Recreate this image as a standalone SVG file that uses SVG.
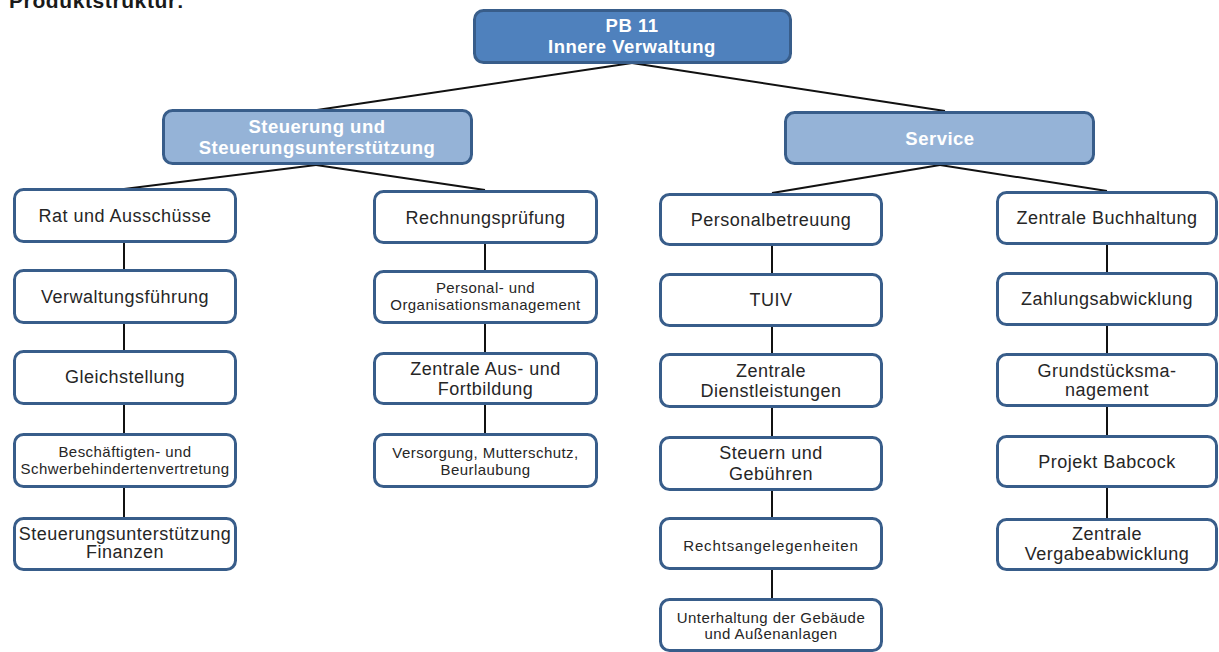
<svg xmlns="http://www.w3.org/2000/svg" width="1219" height="652" viewBox="0 0 1219 652">
<style>
.top{fill:#4f81bd;stroke:#385d8a;stroke-width:3}
.mid{fill:#95b3d7;stroke:#385d8a;stroke-width:3}
.box{fill:#ffffff;stroke:#385d8a;stroke-width:3}
.hb{font-family:"Liberation Sans",Arial,sans-serif;font-weight:bold;font-size:18.5px;letter-spacing:0.5px;fill:#ffffff;text-anchor:middle}
.t{font-family:"Liberation Sans",Arial,sans-serif;font-size:18px;letter-spacing:0.5px;fill:#262626;text-anchor:middle}
.s{font-family:"Liberation Sans",Arial,sans-serif;font-size:15px;letter-spacing:0.45px;fill:#262626;text-anchor:middle}
.s2{font-family:"Liberation Sans",Arial,sans-serif;font-size:15px;letter-spacing:0.85px;fill:#262626;text-anchor:middle}
.title{font-family:"Liberation Sans",Arial,sans-serif;font-weight:bold;font-size:21px;letter-spacing:0.6px;fill:#1a1a1a}
.c{stroke:#111111;stroke-width:2;fill:none}
</style>
<text class="title" x="9" y="8">Produktstruktur:</text>
<g id="connectors">
<line class="c" x1="632" y1="63" x2="317" y2="110"/>
<line class="c" x1="632" y1="63" x2="945" y2="111"/>
<line class="c" x1="316" y1="165" x2="124" y2="189"/>
<line class="c" x1="316" y1="165" x2="485" y2="190"/>
<line class="c" x1="940" y1="165" x2="772" y2="193"/>
<line class="c" x1="940" y1="165" x2="1107" y2="191"/>
<line class="c" x1="124" y1="242" x2="124" y2="270"/>
<line class="c" x1="124" y1="323" x2="124" y2="351"/>
<line class="c" x1="124" y1="404" x2="124" y2="434"/>
<line class="c" x1="124" y1="487" x2="124" y2="518"/>
<line class="c" x1="485" y1="244" x2="485" y2="271"/>
<line class="c" x1="485" y1="324" x2="485" y2="353"/>
<line class="c" x1="485" y1="405" x2="485" y2="434"/>
<line class="c" x1="772" y1="246" x2="772" y2="274"/>
<line class="c" x1="772" y1="327" x2="772" y2="354"/>
<line class="c" x1="772" y1="408" x2="772" y2="437"/>
<line class="c" x1="772" y1="491" x2="772" y2="518"/>
<line class="c" x1="772" y1="570" x2="772" y2="599"/>
<line class="c" x1="1107" y1="245" x2="1107" y2="273"/>
<line class="c" x1="1107" y1="326" x2="1107" y2="354"/>
<line class="c" x1="1107" y1="407" x2="1107" y2="436"/>
<line class="c" x1="1107" y1="488" x2="1107" y2="519"/>
</g>
<g id="pb11"><rect class="top" x="474.5" y="10.5" width="316" height="52" rx="9"/><text class="hb" x="632" y="32">PB 11</text><text class="hb" x="632" y="53">Innere Verwaltung</text></g>
<g id="steuerung"><rect class="mid" x="163.5" y="110.5" width="308" height="53" rx="9"/><text class="hb" x="317" y="133">Steuerung und</text><text class="hb" x="317" y="154">Steuerungsunterstützung</text></g>
<g id="service"><rect class="mid" x="785.5" y="112.5" width="308" height="51" rx="9"/><text class="hb" x="940" y="145">Service</text></g>

<g id="rat"><rect class="box" x="14.5" y="189.5" width="221" height="52" rx="9"/><text class="t" x="125" y="222">Rat und Ausschüsse</text></g>
<g id="verwaltungsfuehrung"><rect class="box" x="14.5" y="270.5" width="221" height="52" rx="9"/><text class="t" x="125" y="303">Verwaltungsführung</text></g>
<g id="gleichstellung"><rect class="box" x="14.5" y="351.5" width="221" height="52" rx="9"/><text class="t" x="125" y="383">Gleichstellung</text></g>
<g id="beschaeftigten"><rect class="box" x="14.5" y="434.5" width="221" height="52" rx="9"/><text class="s" x="125" y="457">Beschäftigten- und</text><text class="s" x="125" y="474">Schwerbehindertenvertretung</text></g>
<g id="steuerungsunterstuetzung"><rect class="box" x="14.5" y="518.5" width="221" height="51" rx="9"/><text class="t" x="125" y="540">Steuerungsunterstützung</text><text class="t" x="125" y="558">Finanzen</text></g>

<g id="rechnungspruefung"><rect class="box" x="374.5" y="191.5" width="222" height="51" rx="9"/><text class="t" x="485.5" y="224">Rechnungsprüfung</text></g>
<g id="personal"><rect class="box" x="374.5" y="271.5" width="222" height="51" rx="9"/><text class="s" x="485.5" y="293">Personal- und</text><text class="s" x="485.5" y="310">Organisationsmanagement</text></g>
<g id="ausbildung"><rect class="box" x="374.5" y="353.5" width="222" height="50" rx="9"/><text class="t" x="485.5" y="375">Zentrale Aus- und</text><text class="t" x="485.5" y="395">Fortbildung</text></g>
<g id="versorgung"><rect class="box" x="374.5" y="434.5" width="222" height="52" rx="9"/><text class="s" x="485.5" y="458">Versorgung, Mutterschutz,</text><text class="s" x="485.5" y="475">Beurlaubung</text></g>

<g id="personalbetreuung"><rect class="box" x="660.5" y="194.5" width="221" height="50" rx="9"/><text class="t" x="771" y="226">Personalbetreuung</text></g>
<g id="tuiv"><rect class="box" x="660.5" y="274.5" width="221" height="51" rx="9"/><text class="t" x="771" y="306">TUIV</text></g>
<g id="dienstleistungen"><rect class="box" x="660.5" y="354.5" width="221" height="52" rx="9"/><text class="t" x="771" y="377">Zentrale</text><text class="t" x="771" y="397">Dienstleistungen</text></g>
<g id="steuern"><rect class="box" x="660.5" y="437.5" width="221" height="52" rx="9"/><text class="t" x="771" y="459">Steuern und</text><text class="t" x="771" y="480">Gebühren</text></g>
<g id="recht"><rect class="box" x="660.5" y="518.5" width="221" height="50" rx="9"/><text class="s2" x="771" y="551">Rechtsangelegenheiten</text></g>
<g id="unterhaltung"><rect class="box" x="660.5" y="599.5" width="221" height="51" rx="9"/><text class="s" x="771" y="623">Unterhaltung der Gebäude</text><text class="s" x="771" y="639">und Außenanlagen</text></g>

<g id="buchhaltung"><rect class="box" x="997.5" y="192.5" width="219" height="51" rx="9"/><text class="t" x="1107" y="224">Zentrale Buchhaltung</text></g>
<g id="zahlung"><rect class="box" x="997.5" y="273.5" width="219" height="51" rx="9"/><text class="t" x="1107" y="305">Zahlungsabwicklung</text></g>
<g id="grundstueck"><rect class="box" x="997.5" y="354.5" width="219" height="51" rx="9"/><text class="t" x="1107" y="377">Grundstücksma-</text><text class="t" x="1107" y="396">nagement</text></g>
<g id="babcock"><rect class="box" x="997.5" y="436.5" width="219" height="50" rx="9"/><text class="t" x="1107" y="468">Projekt Babcock</text></g>
<g id="vergabe"><rect class="box" x="997.5" y="519.5" width="219" height="50" rx="9"/><text class="t" x="1107" y="540">Zentrale</text><text class="t" x="1107" y="560">Vergabeabwicklung</text></g>
</svg>
